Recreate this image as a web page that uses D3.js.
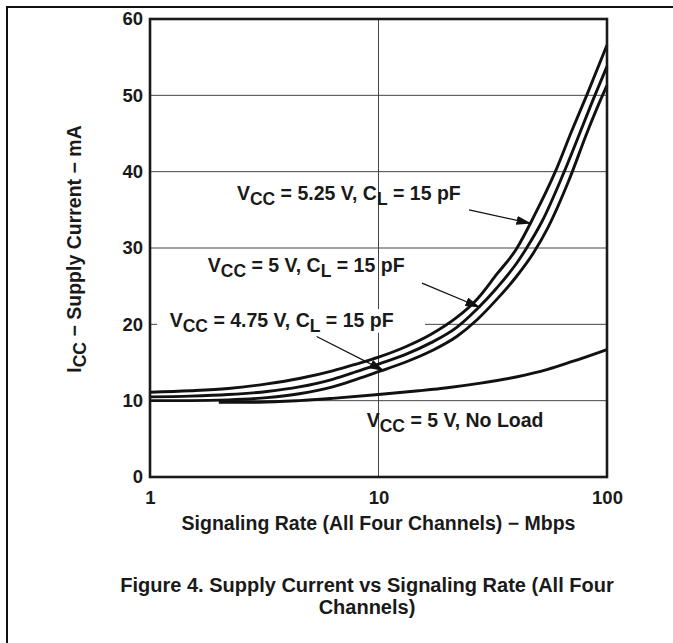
<!DOCTYPE html>
<html>
<head>
<meta charset="utf-8">
<script src="https://cdn.jsdelivr.net/npm/d3@7"></script>
<style>
  html, body { margin: 0; padding: 0; background: #fff; }
  svg { display: block; }
  text { font-family: "Liberation Sans", Arial, Helvetica, sans-serif; font-weight: bold; fill: #1a1a1a; }
</style>
</head>
<body>
<svg id="chart" width="673" height="643"></svg>
<script>
// ---- data (signaling rate in Mbps, supply current in mA) ----
const rate525 = [1, 1.5, 2.2, 3.25, 4.5, 6.3, 8, 10, 13, 17, 22, 27, 33, 40, 48, 59.4, 70, 81.5, 100];
const icc525  = [11.1, 11.3, 11.6, 12.2, 12.9, 13.9, 14.8, 15.7, 17.0, 18.7, 20.9, 23.3, 26.6, 29.8, 34.2, 40.0, 45.3, 50.0, 56.6];

const rate500 = [1, 1.5, 2.2, 3.25, 4.5, 6.3, 8, 10, 13, 17, 22, 27, 33, 40, 44.5, 52, 65, 88.5, 100];
const icc500  = [10.5, 10.6, 10.8, 11.2, 11.8, 12.8, 13.8, 14.8, 16.0, 17.6, 19.6, 22.0, 24.8, 27.9, 30.0, 33.5, 40.0, 50.0, 53.8];

const rate475 = [1, 1.5, 2.2, 3.25, 4.5, 6.3, 8, 10, 13, 17, 22, 27, 33, 40, 48, 55, 68, 82, 94, 100];
const icc475  = [10.0, 10.0, 10.1, 10.4, 10.9, 11.8, 12.8, 13.8, 15.0, 16.5, 18.4, 20.6, 23.3, 26.2, 29.5, 32.6, 38.8, 45.2, 49.5, 51.3];

const rateNoLoad = [2, 3, 4.5, 6.3, 10, 15, 20, 28, 40, 55, 70, 100];
const iccNoLoad  = [9.8, 9.8, 10.0, 10.3, 10.8, 11.3, 11.7, 12.3, 13.1, 14.1, 15.1, 16.7];

const xTicks = [1, 10, 100];
const yTicks = [0, 10, 20, 30, 40, 50, 60];

const xTitle = "Signaling Rate (All Four Channels) \u2212 Mbps";
const figTitle1 = "Figure 4. Supply Current vs Signaling Rate (All Four";
const figTitle2 = "Channels)";

// curve labels: [text, isSubscript] pieces ; anchor in data units (rate, current at baseline)
const labels = [
  { parts: [["V", 0], ["CC", 1], [" = 5.25 V, C", 0], ["L", 1], [" = 15 pF", 0]], at: [2.40, 36.3] },
  { parts: [["V", 0], ["CC", 1], [" = 5 V, C", 0], ["L", 1], [" = 15 pF", 0]], at: [1.79, 26.9] },
  { parts: [["V", 0], ["CC", 1], [" = 4.75 V, C", 0], ["L", 1], [" = 15 pF", 0]], at: [1.22, 19.7], box: [[1.073, 22.0], [15.98, 18.9]] },
  { parts: [["V", 0], ["CC", 1], [" = 5 V, No Load", 0]], at: [8.88, 6.6] }
];
// arrows: from [rate, current] to [rate, current]
const arrows = [
  { from: [24.9, 35.0], to: [46.7, 33.2] },
  { from: [15.5, 25.4], to: [27.9, 22.2] },
  { from: [5.36, 18.4], to: [10.6, 13.9] }
];

// ---- drawing ----
const svg = d3.select("#chart");
const L = 150, R = 607, T = 19, B = 477;
const x = d3.scaleLog().domain([1, 100]).range([L, R]);
const y = d3.scaleLinear().domain([0, 60]).range([B, T]);

// page frame
svg.append("path").attr("d", "M7,643 V7 H673").attr("fill", "none").attr("stroke", "#111").attr("stroke-width", 2);

// grid
const grid = svg.append("g").attr("stroke", "#444").attr("stroke-width", 1);
grid.selectAll("line.h").data(yTicks.filter(v => v > 0 && v < 60)).enter().append("line")
  .attr("x1", L).attr("x2", R).attr("y1", d => y(d)).attr("y2", d => y(d));
grid.selectAll("line.v").data(xTicks.filter(v => v > 1 && v < 100)).enter().append("line")
  .attr("x1", d => x(d)).attr("x2", d => x(d)).attr("y1", T).attr("y2", B);

// label boxes (white, hide grid)
labels.filter(l => l.box).forEach(l => {
  const [p0, p1] = l.box;
  svg.append("rect").attr("x", x(p0[0])).attr("y", y(p0[1]))
    .attr("width", x(p1[0]) - x(p0[0])).attr("height", y(p1[1]) - y(p0[1])).attr("fill", "#fff");
});

// curves
const line = d3.line().x(d => x(d[0])).y(d => y(d[1])).curve(d3.curveMonotoneX);
const series = [
  d3.zip(rate525, icc525), d3.zip(rate500, icc500), d3.zip(rate475, icc475), d3.zip(rateNoLoad, iccNoLoad)
];
svg.append("g").selectAll("path").data(series).enter().append("path")
  .attr("d", line).attr("fill", "none").attr("stroke", "#111").attr("stroke-width", 2.9)
  .attr("stroke-linejoin", "round");

// plot frame
svg.append("rect").attr("x", L).attr("y", T).attr("width", R - L).attr("height", B - T)
  .attr("fill", "none").attr("stroke", "#1a1a1a").attr("stroke-width", 2.6);

// axes (labels only)
const yAxis = svg.append("g").attr("transform", `translate(${L},0)`)
  .call(d3.axisLeft(y).tickValues(yTicks).tickSize(0).tickPadding(7).tickFormat(d3.format("d")));
const xAxis = svg.append("g").attr("transform", `translate(0,${B})`)
  .call(d3.axisBottom(x).tickValues(xTicks).tickSize(0).tickPadding(14).tickFormat(d3.format("d")));
[yAxis, xAxis].forEach(a => {
  a.select(".domain").remove();
  a.selectAll("text").attr("font-size", 18.5).attr("fill", "#1a1a1a")
    .style("font-family", '"Liberation Sans", Arial, sans-serif').style("font-weight", "bold");
});

// arrows
const defs = svg.append("defs");
defs.append("marker").attr("id", "ah").attr("viewBox", "0 0 15 9").attr("refX", 15).attr("refY", 4.5)
  .attr("markerWidth", 15).attr("markerHeight", 9).attr("markerUnits", "userSpaceOnUse").attr("orient", "auto")
  .append("path").attr("d", "M0,0 L15,4.5 L0,9 Z").attr("fill", "#111");
svg.append("g").selectAll("line").data(arrows).enter().append("line")
  .attr("x1", d => x(d.from[0])).attr("y1", d => y(d.from[1]))
  .attr("x2", d => x(d.to[0])).attr("y2", d => y(d.to[1]))
  .attr("stroke", "#111").attr("stroke-width", 1.2).attr("marker-end", "url(#ah)");

// curve labels
labels.forEach(l => {
  const t = svg.append("text").attr("x", x(l.at[0])).attr("y", y(l.at[1])).attr("font-size", 19.5);
  let down = false;
  l.parts.forEach(([s, sub]) => {
    const ts = t.append("tspan").text(s);
    if (sub && !down) { ts.attr("dy", 5).attr("font-size", 17.5); down = true; }
    else if (sub) { ts.attr("font-size", 17.5); }
    else if (down) { ts.attr("dy", -5); down = false; }
  });
});

// y axis title
const yt = svg.append("text").attr("transform", "translate(81,249) rotate(-90)")
  .attr("text-anchor", "middle").attr("font-size", 19.5);
yt.append("tspan").text("I");
yt.append("tspan").text("CC").attr("dy", 5).attr("font-size", 17.5);
yt.append("tspan").text(" \u2212 Supply Current \u2212 mA").attr("dy", -5);

// x axis title
svg.append("text").attr("x", (L + R) / 2).attr("y", 530).attr("text-anchor", "middle")
  .attr("font-size", 19.5).text(xTitle);

// figure caption
svg.append("text").attr("x", 367).attr("y", 592).attr("text-anchor", "middle").attr("font-size", 20).text(figTitle1);
svg.append("text").attr("x", 367).attr("y", 614).attr("text-anchor", "middle").attr("font-size", 20).text(figTitle2);
</script>
</body>
</html>
